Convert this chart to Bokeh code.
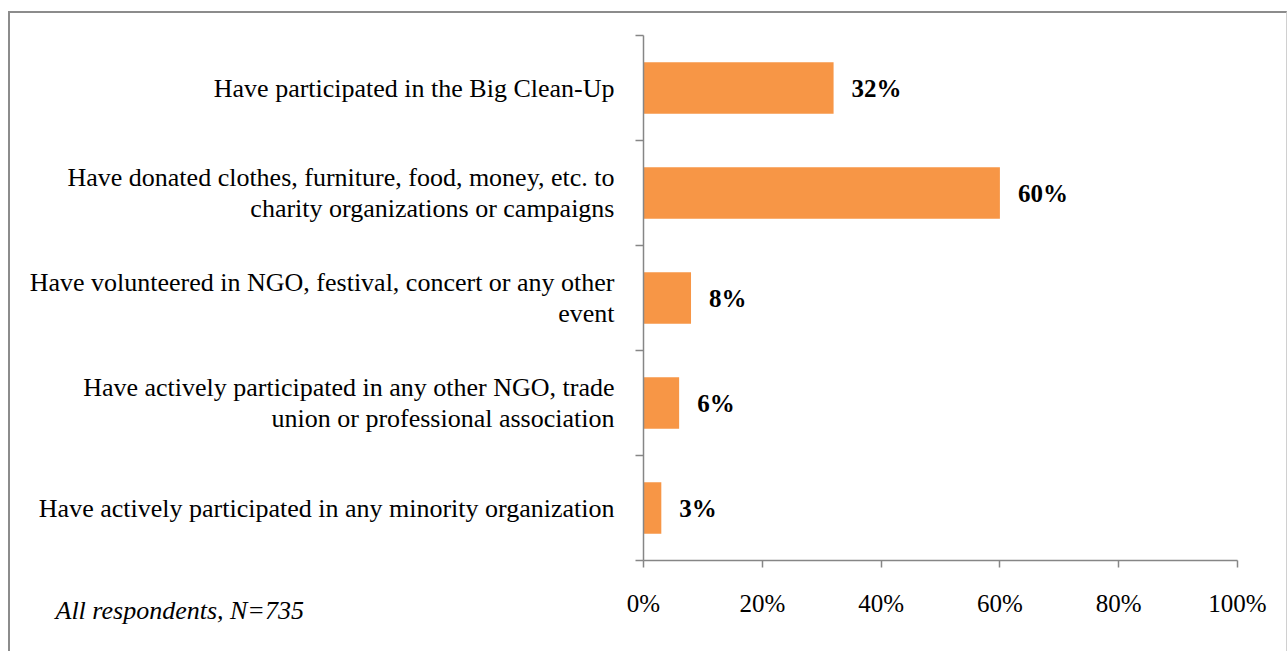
from bokeh.plotting import figure
from bokeh.models import ColumnDataSource, FixedTicker, LinearAxis, Title
from bokeh.core.properties import value
from bokeh.embed import file_html
from bokeh.resources import INLINE

categories = [
    "Have participated in the Big Clean-Up",
    "Have donated clothes, furniture, food, money, etc. to\ncharity organizations or campaigns",
    "Have volunteered in NGO, festival, concert or any other\nevent",
    "Have actively participated in any other NGO, trade\nunion or professional association",
    "Have actively participated in any minority organization",
]
values = [32, 60, 8, 6, 3]
value_labels = ["32%", "60%", "8%", "6%", "3%"]
x_ticks = [0, 20, 40, 60, 80, 100]
x_tick_labels = ["0%", "20%", "40%", "60%", "80%", "100%"]
note = "All respondents, N=735"

n = len(categories)
ypos = [n - 0.5 - i for i in range(n)]

FONT = "Liberation Serif"
W, H = 1279, 640

p = figure(width=W, height=H, x_range=(0, 100), y_range=(0, n),
           output_backend="svg", toolbar_location=None,
           min_border_left=633, min_border_right=52, min_border_top=22, min_border_bottom=93,
           x_axis_location=None, y_axis_location=None)
p.styles = {"margin-left": "8px", "margin-top": "11px",
            "border-top": "2px solid #8c8c8c", "border-left": "2px solid #8c8c8c",
            "border-right": "1px solid #d0d0d0", "box-sizing": "border-box"}
p.grid.visible = False
p.outline_line_color = None
p.background_fill_color = "white"
p.border_fill_color = "white"

src = ColumnDataSource(dict(y=ypos, v=values, lab=value_labels))
p.hbar(y="y", left=0, right="v", height=0.49, source=src,
       fill_color="#F79646", line_color=None)
p.text(x="v", y="y", text="lab", source=src, x_offset=18,
       text_align="left", text_baseline="middle",
       text_font=value(FONT), text_font_size="25px", text_font_style="bold",
       text_color="black")

# x axis
xa = LinearAxis(ticker=FixedTicker(ticks=x_ticks),
                major_label_overrides={t: l for t, l in zip(x_ticks, x_tick_labels)})
xa.axis_line_color = "#868686"
xa.axis_line_width = 1.5
xa.major_tick_line_color = "#868686"
xa.major_tick_line_width = 1.5
xa.major_tick_in = 0
xa.major_tick_out = 7
xa.minor_tick_line_color = None
xa.major_label_standoff = 22
xa.major_label_text_font = FONT
xa.major_label_text_font_size = "25px"
xa.major_label_text_color = "black"
p.add_layout(xa, "below")

# y axis: labels at category centers, ticks at boundaries
ya = LinearAxis(ticker=FixedTicker(ticks=ypos, minor_ticks=list(range(n + 1))),
                major_label_overrides={y: c for y, c in zip(ypos, categories)})
ya.axis_line_color = "#868686"
ya.axis_line_width = 1.5
ya.major_tick_line_color = None
ya.major_tick_in = 0
ya.major_tick_out = 0
ya.minor_tick_line_color = "#868686"
ya.minor_tick_line_width = 1.5
ya.minor_tick_in = 0
ya.minor_tick_out = 8
ya.major_label_standoff = 21
ya.major_label_text_font = FONT
ya.major_label_text_font_size = "26px"
ya.major_label_text_color = "black"
ya.major_label_text_line_height = 1.05
p.add_layout(ya, "left")

# footnote
p.add_layout(Title(text=note, align="left", vertical_align="top", offset=-588, standoff=-48,
                   text_font=FONT, text_font_size="26px", text_font_style="italic",
                   text_color="black"), "below")

open("out.html", "w").write(file_html(p, INLINE))
